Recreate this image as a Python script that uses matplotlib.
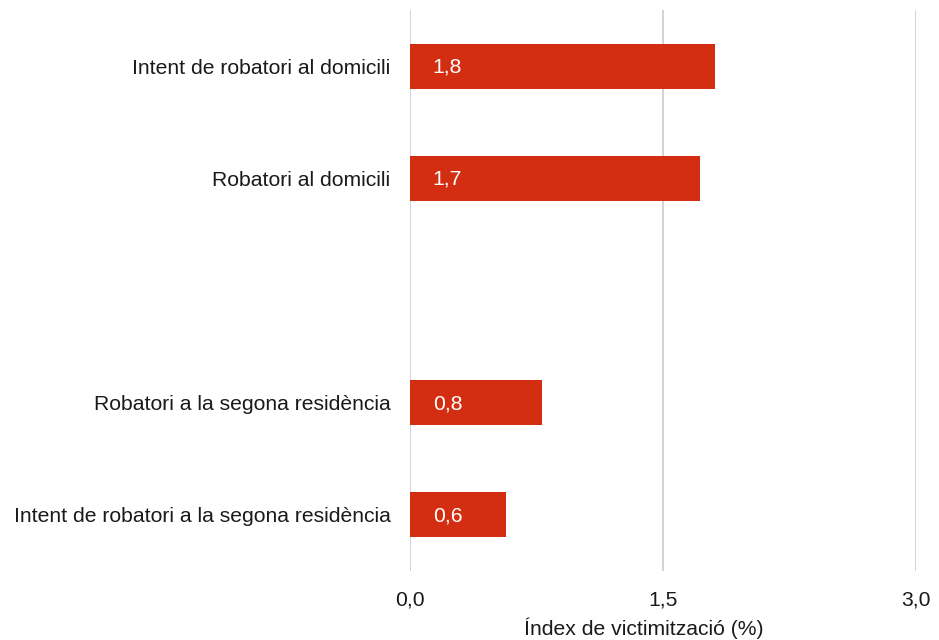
import matplotlib
matplotlib.use("Agg")
import matplotlib.pyplot as plt
import numpy as np

plt.rcParams['font.family'] = ['Liberation Sans', 'DejaVu Sans']

categories = [
    "Intent de robatori al domicili",
    "Robatori al domicili",
    "",
    "Robatori a la segona residència",
    "Intent de robatori a la segona residència",
]
values = [1.81, 1.72, np.nan, 0.78, 0.57]
xticks = [0.0, 1.5, 3.0]
xtick_labels = ["0,0", "1,5", "3,0"]
xlabel = "Índex de victimització (%)"

bar_color = "#D42E12"
grid_color = "#D0D0D0"
fs = 15.2

fig = plt.figure(figsize=(9.39, 6.4), dpi=100)
ax = fig.add_axes([410/939, 1-571/640, (916-410)/939, (571-10)/640])

pos = np.arange(len(categories))
for p, v in zip(pos, values):
    if np.isnan(v):
        continue
    ax.barh(p, v, height=0.4, color=bar_color, zorder=3)
    ax.text(0.135, p + 0.01, f"{v:.1f}".replace(".", ","), color="white",
            fontsize=fs, va="center", ha="left", zorder=4)

ax.set_ylim(len(categories) - 0.5, -0.5)
ax.set_xlim(0, 3.0)
ax.set_yticks(pos)
ax.set_yticklabels(categories, fontsize=fs, color="#1a1a1a")
ax.set_xticks(xticks)
ax.set_xticklabels(xtick_labels, fontsize=fs, color="#1a1a1a")
ax.tick_params(axis='y', length=0, pad=14)
ax.tick_params(axis='x', length=0, pad=14)

for s in ax.spines.values():
    s.set_visible(False)
ax.grid(axis='x', color=grid_color, linewidth=1.3, zorder=0)
ax.grid(axis='y', visible=False)

fig.text(644/939, 1-628/640, xlabel, fontsize=fs, ha="center", va="center", color="#1a1a1a")

fig.savefig("out.png", dpi=100)
